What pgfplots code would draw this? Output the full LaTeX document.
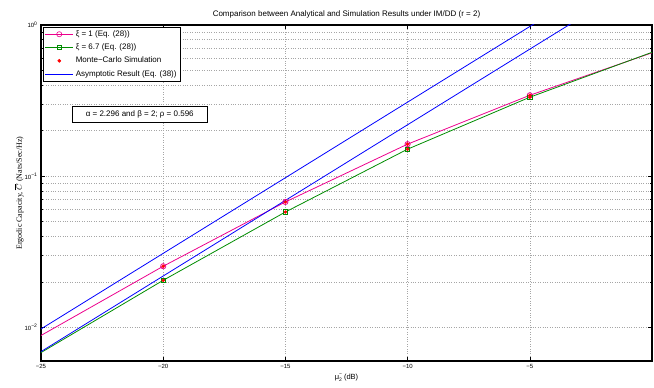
\documentclass[border=0pt]{standalone}
\usepackage{pgfplots}
\pgfplotsset{compat=1.18}
\usepackage{fontspec}
\setmainfont{Liberation Sans}
\newfontfamily\seriffont{Liberation Serif}
\definecolor{mgreen}{rgb}{0,0.55,0}
\pgfplotsset{longleg/.style={legend image code/.code={\draw (0cm,0cm) -- (1.0cm,0cm); \draw plot[mark indices={1}] coordinates {(0.5cm,0cm)};}}}
\begin{document}
\begin{tikzpicture}
\useasboundingbox (-41pt,-27pt) rectangle (613pt,361pt);
\begin{axis}[
  at={(0pt,0pt)}, anchor=south west,
  scale only axis,
  width=611pt, height=336pt,
  xmin=-25, xmax=0,
  ymode=log, ymin=0.006, ymax=1,
  xtick={-25,-20,-15,-10,-5,0},
  xticklabels={−25,−20,−15,−10,−5,},
  ytick={0.01,0.1,1},
  yticklabels={10\textsuperscript{−2},10\textsuperscript{−1},10\textsuperscript{0}},
  grid=both,
  major grid style={gray!70, dotted, line width=0.6pt},
  minor grid style={gray!70, dotted, line width=0.6pt},
  minor x tick num=0,
  tick align=inside,
  major tick length=4pt, minor tick length=2pt,
  axis line style={line width=1.1pt},
  tick style={black, line width=0.6pt},
  ticklabel style={font=\fontsize{6}{7}\selectfont},
  title={Comparison between Analytical and Simulation Results under IM/DD (r = 2)},
  title style={font=\fontsize{8}{9}\selectfont, yshift=-3pt},
  xlabel={μ\makebox[0pt][l]{\raisebox{4pt}{\fontsize{5}{5}\selectfont −}}\raisebox{-2.2pt}{\fontsize{5}{5}\selectfont 2}\ (dB)},
  xlabel style={font=\fontsize{7.5}{9}\selectfont, yshift=2pt},
  ylabel={\seriffont Ergodic Capacity, $\overline{C}$ (Nats/Sec/Hz)},
  ylabel style={font=\fontsize{8}{9}\selectfont, yshift=-6pt},
  legend style={at={(0.003,0.995)}, anchor=north west, draw=black, line width=0.8pt,
    font=\fontsize{8}{9.5}\selectfont, inner sep=1.5pt, row sep=2pt,
    legend cell align=left},
  legend image post style={line width=0.6pt},
]
\addplot[magenta, line width=0.8pt, mark=o, mark size=2.6pt, mark options={fill=white, solid}, mark indices={2,3,4,5}, longleg]
  coordinates {(-25,0.00885) (-20,0.0254) (-15,0.0676) (-10,0.163) (-5,0.343) (0,0.655)};
\addlegendentry{ξ = 1 (Eq. (28))}
\addplot[mgreen, line width=0.8pt, mark=square, mark size=2.2pt, mark options={fill=white, solid}, mark indices={2,3,4,5}, longleg]
  coordinates {(-25,0.00682) (-20,0.0205) (-15,0.058) (-10,0.151) (-5,0.333) (0,0.66)};
\addlegendentry{ξ = 6.7 (Eq. (28))}
\addplot[only marks, red, mark=*, mark size=1.5pt,
  legend image code/.code={\draw plot[only marks] coordinates {(0.5cm,0cm)};}]
  coordinates {(-20,0.0254) (-15,0.0676) (-10,0.163) (-5,0.343)
               (-20,0.0205) (-15,0.058) (-10,0.151) (-5,0.333)};
\addlegendentry{Monte−Carlo Simulation}
\addplot[blue, line width=0.8pt, longleg] coordinates {(-25,0.00977) (0,3.09)};
\addlegendentry{Asymptotic Result (Eq. (38))}
\addplot[blue, line width=0.8pt, forget plot] coordinates {(-25,0.00692) (0,2.19)};
\node[draw=black, line width=0.6pt, fill=white, font=\fontsize{8}{9}\selectfont, inner xsep=14pt, inner ysep=4.5pt]
  at (axis cs:-20.96,0.257) {α = 2.296 and β = 2; ρ = 0.596};
\end{axis}
\end{tikzpicture}
\end{document}
